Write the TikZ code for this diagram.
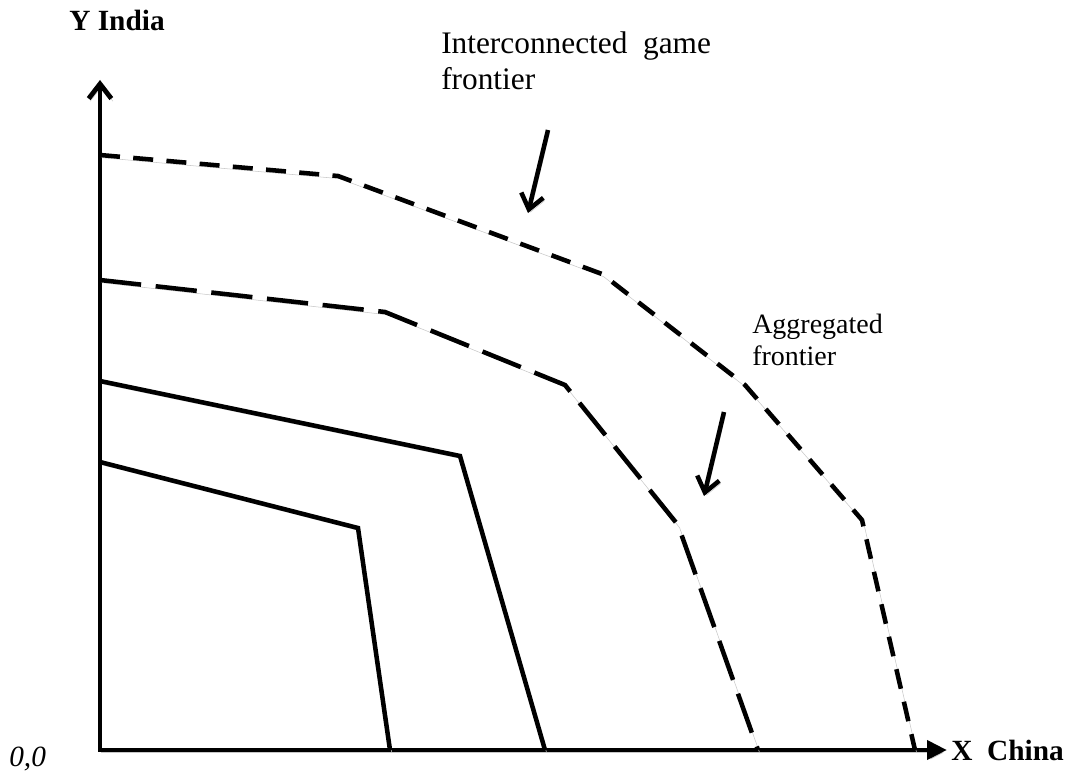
\documentclass[tikz,border=0pt]{standalone}
\usepackage{fontspec}
\setmainfont{Liberation Serif}
\usepackage{tikz}
\usetikzlibrary{arrows.meta}

\begin{document}
\begin{tikzpicture}[x=0.75pt, y=-0.75pt]
		\tikzstyle{shade}=[preaction={draw=black!22, transform canvas={shift={(1.2pt,-2pt)}}}]
		\tikzstyle{axis}=[line width=3.6pt, shade]
		\tikzstyle{frontier}=[line width=3.4pt, line join=miter, shade]
		\tikzstyle{game}=[frontier, dash pattern=on 15pt off 10pt]
		\tikzstyle{aggr}=[frontier, dash pattern=on 31pt off 11pt]
		\tikzstyle{connect}=[-{Straight Barb[length=11pt, width=17pt]}, line width=3.4pt, shade]
		\tikzstyle{lbl}=[inner sep=0pt]
		\useasboundingbox (0,0) rectangle (1068,774);
		% axes
		\coordinate (o) at (100,750);
		\coordinate (ytop) at (100,80);
		\coordinate (xend) at (947,750);
		\draw[axis, {Straight Barb[length=11pt, width=17pt]}-{Triangle[length=15pt, width=14pt]}] (ytop) -- (o) -- (xend);
		\node[lbl, font=\fontsize{22}{26}\selectfont\bfseries] (ylabel) at (117,20) {Y India};
		\node[lbl, anchor=west, font=\fontsize{22}{26}\selectfont\bfseries] (xlabel) at (951,750) {X\ \ China};
		\node[lbl, anchor=west, font=\fontsize{22}{26}\selectfont\itshape] (origin) at (9,759) {0,0};
		% inner frontiers
		\draw[frontier] (100,462) -- (358,528) -- (390,750);
		\draw[frontier] (100,381) -- (460,456) -- (545,750);
		% aggregated frontier
		\draw[aggr] (100,280) -- (385,312) -- (565,385) -- (678,525) -- (758,750);
		% interconnected game frontier
		\draw[game] (100,155) -- (338,176) -- (602,274) -- (745,385) -- (862,520) -- (915,750);
		% labels
		\node[lbl, anchor=north west, align=left, font=\fontsize{23.5}{27}\selectfont] (gamelbl) at (441,31) {Interconnected\ \ game\\frontier};
		\node[lbl, anchor=north west, align=left, font=\fontsize{21}{24}\selectfont] (aggrlbl) at (752,314) {Aggregated\\frontier};
		\coordinate (ga) at (548,130);
		\coordinate (gb) at (528,213);
		\coordinate (aa) at (724,412);
		\coordinate (ab) at (704,496);
		\path
		(ga) edge [connect] (gb)
		(aa) edge [connect] (ab)
		;
	\end{tikzpicture}
\end{document}
